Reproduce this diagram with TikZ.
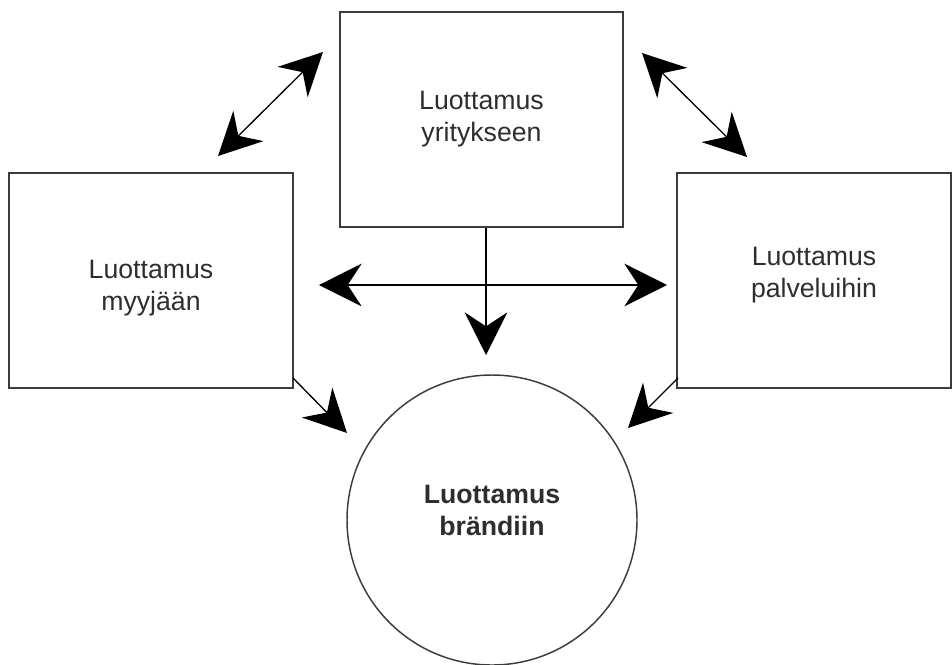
\documentclass[tikz,border=0pt]{standalone}
\usepackage{fontspec}
\setmainfont{Liberation Sans}
\usetikzlibrary{arrows.meta}
\definecolor{linecol}{HTML}{3C3C3C}
\definecolor{textcol}{HTML}{2E2E2E}
\begin{document}
\begin{tikzpicture}[x=0.75pt,y=0.75pt,
  boxshape/.style={draw=linecol, line width=1.1pt, rectangle, inner sep=0pt},
  circshape/.style={draw=linecol, line width=1.1pt, circle, inner sep=0pt, minimum size=217.5pt},
  lbl/.style={text=textcol, align=center, font=\fontsize{20}{24}\selectfont, inner sep=0pt},
  conn/.style={line width=1pt, -{Stealth[length=32pt,width=32pt,inset=10.5pt]}},
  biconn/.style={line width=1pt, {Stealth[length=32pt,width=32pt,inset=10.5pt]}-{Stealth[length=32pt,width=32pt,inset=10.5pt]}}
  ]
\useasboundingbox (0,0) rectangle (952,-664);

\node[boxshape, minimum width=212.25pt, minimum height=161.25pt,
  label={[lbl, yshift=0.5pt]center:Luottamus\\yritykseen}] (T) at (481.5,-119.5) {};
\node[boxshape, minimum width=213pt, minimum height=161.25pt,
  label={[lbl, yshift=-6pt]center:Luottamus\\myyjään}] (L) at (151,-280.5) {};
\node[boxshape, minimum width=205.5pt, minimum height=161.25pt,
  label={[lbl, yshift=3.75pt]center:Luottamus\\palveluihin}] (R) at (814,-280.5) {};
\node[circshape,
  label={[lbl, yshift=7.5pt, font=\fontsize{20}{24}\selectfont\bfseries]center:Luottamus\\brändiin}] (B) at (492,-520) {};

% free ends
\coordinate (tl1) at (218,-156);
\coordinate (tl2) at (323,-52);
\coordinate (tr1) at (642,-53);
\coordinate (tr2) at (747,-157);
\coordinate (h1) at (319,-285);
\coordinate (h2) at (667,-285);
\coordinate (vtip) at (486,-355);
\coordinate (ls) at (293,-378);
\coordinate (lt) at (347,-433);
\coordinate (rs) at (678,-378);
\coordinate (rt) at (628,-428);

\draw[biconn] (tl1) -- (tl2);
\draw[biconn] (tr1) -- (tr2);
\draw[biconn] (h1) -- (h2);
\draw[conn] (T.south -| vtip) -- (vtip);
\draw[conn] (ls) -- (lt);
\draw[conn] (rs) -- (rt);
\end{tikzpicture}
\end{document}
